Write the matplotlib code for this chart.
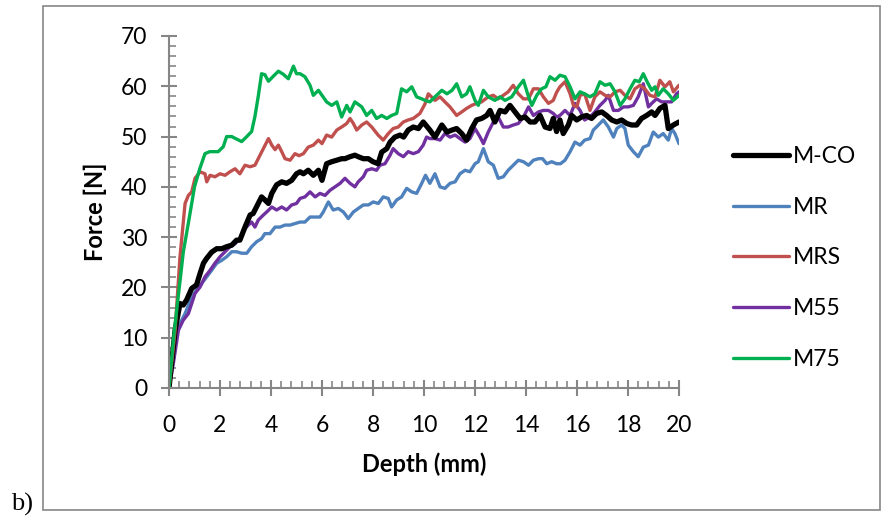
import matplotlib
matplotlib.use("Agg")
import matplotlib.pyplot as plt
from matplotlib.patches import Rectangle
from matplotlib.ticker import MultipleLocator

series_names = ["M-CO", "MR", "MRS", "M55", "M75"]
series_colors = ["#000000", "#4F81BD", "#C0504D", "#7030A0", "#00B050"]

mco_x = [0, 0.24, 0.43, 0.56, 0.69, 0.89, 1.08, 1.22, 1.35, 1.48, 1.67, 1.87, 2.07, 2.26, 2.46, 2.65, 2.78, 2.98, 3.18, 3.3, 3.5, 3.63, 3.76, 3.9, 4.03, 4.22, 4.42, 4.61, 4.81, 5.0,
         5.14, 5.27, 5.46, 5.66, 5.86, 6.0, 6.18, 6.38, 6.58, 6.77, 6.9, 7.1, 7.29, 7.42, 7.62, 7.82, 8.0, 8.2, 8.34, 8.54, 8.67, 8.86, 9.06, 9.2, 9.38, 9.58, 9.78, 9.97,
         10.23, 10.43, 10.7, 10.9, 11.1, 11.28, 11.48, 11.67, 11.87, 12.06, 12.26, 12.46, 12.59, 12.78, 12.98, 13.18, 13.37, 13.57, 13.77, 13.96, 14.16, 14.35, 14.55, 14.75, 14.94, 15.07, 15.2,
         15.33, 15.46, 15.66, 15.79, 15.99, 16.18, 16.38, 16.57, 16.77, 16.97, 17.16, 17.36, 17.56, 17.75, 17.95, 18.14, 18.34, 18.53, 18.73, 18.93, 19.06, 19.25, 19.45, 19.58, 19.78, 20.0]
mco_y = [0, 11.5, 16.8, 16.5, 17.5, 19.8, 20.5, 22.8, 24.8, 25.8, 27.0, 27.7, 27.7, 28.1, 28.4, 29.4, 29.4, 32.0, 34.4, 34.7, 36.7, 38.0, 37.4, 36.7, 38.7, 40.4, 41.0, 40.7, 41.3, 42.6,
         43.0, 42.6, 43.3, 42.3, 43.3, 41.3, 44.6, 45.0, 45.3, 45.6, 45.6, 46.0, 46.3, 46.0, 45.6, 45.6, 45.0, 44.6, 46.9, 47.6, 48.9, 49.9, 50.3, 49.9, 51.3, 51.9, 51.6, 52.9,
         51.3, 49.9, 52.3, 50.9, 51.3, 51.6, 50.6, 49.3, 51.6, 53.3, 53.6, 54.2, 55.2, 52.9, 55.2, 54.9, 56.2, 54.9, 53.6, 53.9, 52.9, 52.9, 54.2, 51.9, 51.6, 53.6, 51.0,
         53.3, 50.6, 52.3, 54.2, 53.3, 53.9, 54.2, 53.6, 54.6, 54.9, 54.2, 53.3, 52.9, 53.3, 52.6, 52.3, 52.3, 53.6, 54.2, 54.9, 54.2, 55.6, 56.2, 51.6, 52.3, 52.9]

mr_x = [0, 0.24, 0.43, 0.63, 0.89, 1.08, 1.28, 1.48, 1.67, 1.87, 2.07, 2.26, 2.46, 2.65, 2.85, 3.05, 3.24, 3.44, 3.63, 3.76, 3.96, 4.16, 4.35, 4.55, 4.75, 4.94,
        5.14, 5.33, 5.53, 5.73, 5.92, 6.05, 6.25, 6.44, 6.64, 6.84, 7.03, 7.23, 7.42, 7.62, 7.82, 8.01, 8.21, 8.4, 8.6, 8.73, 8.93, 9.12, 9.32, 9.52, 9.71, 9.91, 10.06,
        10.23, 10.43, 10.63, 10.82, 11.02, 11.22, 11.41, 11.61, 11.8, 12.0, 12.13, 12.33, 12.52, 12.72, 12.91, 13.11, 13.3, 13.5, 13.7, 13.9, 14.1, 14.29, 14.49, 14.65, 14.81, 15.01, 15.2,
        15.35, 15.53, 15.73, 15.92, 16.12, 16.3, 16.51, 16.64, 16.84, 17.03, 17.23, 17.43, 17.56, 17.75, 17.88, 18.01, 18.21, 18.4, 18.6, 18.8, 18.99, 19.19, 19.38, 19.58, 19.71, 19.84, 20.0]
mr_y = [0, 10.2, 12.8, 14.8, 18.1, 19.5, 20.8, 22.1, 23.4, 24.8, 25.4, 26.1, 27.1, 27.1, 26.8, 26.8, 28.1, 29.1, 29.7, 30.7, 30.7, 32.0, 32.0, 32.4, 32.4, 32.7,
        33.0, 33.0, 34.0, 34.0, 34.0, 35.0, 37.0, 35.4, 35.7, 35.0, 33.7, 35.0, 35.7, 36.4, 36.4, 37.0, 36.7, 38.0, 37.7, 36.0, 37.4, 38.0, 39.7, 39.0, 38.7, 40.7, 42.3,
        40.7, 42.6, 40.0, 39.7, 40.7, 41.0, 42.6, 43.3, 43.0, 44.6, 45.0, 47.6, 45.0, 44.3, 41.7, 42.0, 43.3, 44.3, 45.3, 45.0, 44.3, 45.3, 45.6, 45.6, 44.6, 45.0, 44.6,
        44.6, 45.3, 47.0, 48.9, 48.3, 49.3, 49.6, 51.3, 52.3, 53.3, 51.9, 49.9, 51.6, 52.3, 51.6, 48.3, 47.0, 46.0, 47.9, 48.3, 50.9, 49.9, 50.6, 49.3, 51.6, 50.6, 48.6]

mrs_x = [0, 0.24, 0.43, 0.63, 0.76, 0.89, 1.02, 1.22, 1.41, 1.48, 1.61, 1.8, 2.0, 2.2, 2.39, 2.59, 2.78, 2.98, 3.18, 3.37, 3.57, 3.7, 3.9, 4.03, 4.16, 4.29, 4.42, 4.55, 4.75, 4.94,
         5.1, 5.27, 5.46, 5.66, 5.86, 6.0, 6.18, 6.38, 6.58, 6.77, 6.97, 7.1, 7.23, 7.36, 7.56, 7.75, 7.95, 8.2, 8.4, 8.6, 8.79, 8.99, 9.19, 9.38, 9.58, 9.84, 10.04,
         10.17, 10.43, 10.63, 10.82, 11.02, 11.28, 11.48, 11.67, 11.87, 12.06, 12.26, 12.52, 12.72, 12.91, 13.11, 13.3, 13.5, 13.7, 13.9, 14.1, 14.29, 14.49, 14.68, 14.88, 15.07,
         15.2, 15.33, 15.53, 15.73, 15.86, 15.99, 16.12, 16.3, 16.51, 16.7, 16.9, 17.1, 17.3, 17.49, 17.69, 17.88, 18.08, 18.27, 18.47, 18.66, 18.86, 19.06, 19.25, 19.45, 19.64, 19.78, 20.0]
mrs_y = [0, 11.5, 26.0, 36.7, 38.3, 39.0, 41.7, 43.0, 42.6, 41.0, 42.3, 42.0, 42.6, 42.3, 43.0, 43.6, 42.6, 44.3, 44.0, 44.3, 46.3, 47.6, 49.6, 48.3, 47.4, 48.3, 47.0, 45.6, 45.3, 46.6,
         46.2, 46.6, 47.9, 48.3, 49.3, 48.6, 50.3, 49.9, 51.3, 51.9, 52.6, 53.6, 52.6, 51.3, 52.3, 52.9, 51.9, 50.3, 49.3, 50.6, 51.6, 51.9, 52.9, 53.3, 53.6, 54.6, 56.5,
         58.5, 57.2, 57.9, 56.9, 55.9, 54.2, 54.9, 55.6, 56.2, 56.6, 56.9, 57.9, 58.2, 57.5, 58.2, 58.9, 60.2, 58.5, 57.5, 57.5, 59.5, 59.5, 57.9, 56.6, 57.2,
         58.8, 59.9, 60.9, 58.5, 56.2, 55.9, 58.2, 58.5, 55.2, 57.9, 58.9, 58.2, 57.9, 58.9, 59.2, 58.2, 57.5, 59.5, 60.2, 59.5, 58.2, 57.9, 61.2, 59.9, 60.9, 58.9, 60.2]

m55_x = [0, 0.17, 0.37, 0.56, 0.76, 0.89, 1.02, 1.22, 1.41, 1.61, 1.8, 2.0, 2.2, 2.39, 2.59, 2.78, 2.92, 3.11, 3.24, 3.37, 3.5, 3.7, 3.83, 4.03, 4.22, 4.42, 4.61, 4.81, 5.0,
         5.14, 5.33, 5.53, 5.73, 5.92, 6.12, 6.31, 6.51, 6.71, 6.9, 7.1, 7.29, 7.42, 7.62, 7.75, 7.95, 8.14, 8.27, 8.47, 8.67, 8.79, 8.99, 9.19, 9.38, 9.58, 9.78, 9.97,
         10.1, 10.23, 10.43, 10.63, 10.82, 11.02, 11.22, 11.41, 11.61, 11.8, 12.0, 12.2, 12.33, 12.52, 12.72, 12.91, 13.11, 13.3, 13.5, 13.7, 13.9, 14.1, 14.29, 14.49, 14.68, 14.88, 15.07,
         15.2, 15.33, 15.53, 15.73, 15.92, 16.12, 16.3, 16.51, 16.7, 16.9, 17.1, 17.23, 17.43, 17.62, 17.82, 18.01, 18.21, 18.4, 18.6, 18.8, 18.93, 19.12, 19.32, 19.51, 19.71, 19.9, 20.0]
m55_y = [0, 4.9, 11.5, 13.5, 14.8, 16.8, 18.8, 20.1, 22.1, 23.4, 24.8, 26.1, 27.1, 28.1, 28.7, 29.7, 31.4, 32.4, 33.0, 32.0, 33.4, 34.4, 35.0, 36.0, 35.4, 36.0, 35.4, 36.4, 36.7,
         37.7, 38.0, 39.0, 38.0, 38.7, 38.3, 39.3, 40.0, 40.7, 41.7, 40.7, 40.0, 41.0, 42.0, 43.3, 43.6, 43.3, 44.3, 44.6, 46.3, 47.6, 46.6, 46.0, 47.0, 46.6, 47.0, 48.3,
         49.9, 49.6, 49.6, 49.3, 50.6, 49.9, 50.3, 49.6, 48.9, 49.6, 51.6, 49.9, 48.6, 50.9, 52.9, 53.9, 51.9, 51.9, 52.3, 52.6, 53.9, 55.9, 54.2, 54.9, 55.2, 55.2, 54.6,
         53.9, 54.2, 55.2, 54.2, 56.6, 55.2, 53.3, 53.9, 54.9, 56.2, 57.2, 58.2, 55.2, 55.2, 55.9, 55.9, 56.2, 57.9, 60.5, 55.9, 56.6, 57.5, 56.9, 56.9, 56.9, 58.5, 58.9]

m75_x = [0, 0.2, 0.37, 0.56, 0.8, 1.0, 1.2, 1.41, 1.6, 1.93, 2.13, 2.26, 2.46, 2.65, 2.85, 3.05, 3.24, 3.37, 3.5, 3.63, 3.76, 3.9, 4.09, 4.29, 4.48, 4.68, 4.88, 5.0,
         5.14, 5.33, 5.53, 5.66, 5.86, 6.0, 6.18, 6.38, 6.58, 6.77, 6.97, 7.1, 7.29, 7.56, 7.75, 7.95, 8.14, 8.34, 8.54, 8.73, 8.93, 9.12, 9.32, 9.52, 9.71, 9.91, 10.04,
         10.23, 10.43, 10.7, 10.9, 11.1, 11.28, 11.48, 11.67, 11.8, 12.0, 12.13, 12.33, 12.52, 12.78, 12.98, 13.18, 13.44, 13.7, 13.9, 14.1, 14.23, 14.42, 14.61, 14.78, 14.94,
         15.14, 15.33, 15.53, 15.73, 15.92, 16.12, 16.3, 16.51, 16.7, 16.9, 17.1, 17.3, 17.49, 17.69, 17.88, 18.08, 18.27, 18.44, 18.6, 18.75, 18.93, 19.06, 19.19, 19.38, 19.58, 19.78, 20.0]
m75_y = [0, 11.0, 18.5, 27.0, 34.0, 40.0, 43.5, 46.6, 47.0, 47.0, 48.0, 50.0, 50.0, 49.5, 49.0, 50.0, 51.0, 54.0, 58.0, 62.5, 62.3, 61.0, 62.0, 63.0, 62.4, 61.5, 64.0, 62.5,
         62.5, 61.9, 60.2, 58.2, 59.2, 58.2, 56.9, 56.2, 56.9, 53.9, 56.2, 54.9, 56.9, 55.9, 54.2, 55.2, 53.6, 54.2, 53.6, 54.2, 54.6, 59.5, 58.9, 59.9, 57.9, 57.5, 57.2,
         56.9, 57.9, 59.2, 58.5, 59.2, 60.5, 57.9, 58.5, 59.9, 57.2, 56.2, 59.2, 57.9, 57.2, 57.9, 57.2, 57.9, 59.9, 61.2, 57.9, 56.2, 58.2, 59.5, 59.9, 61.9,
         61.2, 62.2, 61.9, 59.9, 57.5, 58.9, 58.5, 57.9, 58.5, 60.9, 60.2, 60.5, 58.9, 56.2, 57.5, 59.5, 61.2, 60.9, 62.5, 60.9, 59.2, 59.9, 58.2, 59.5, 58.5, 57.2, 58.2]

x_ticks = [0, 2, 4, 6, 8, 10, 12, 14, 16, 18, 20]
y_ticks = [0, 10, 20, 30, 40, 50, 60, 70]

plt.rcParams['font.family'] = ['Lato', 'DejaVu Sans']

W, H = 890, 518
fig = plt.figure(figsize=(W / 100, H / 100), dpi=100)
ax = fig.add_axes([169 / W, 1 - 388 / H, (679 - 169) / W, (388 - 36) / H])

xs = [mco_x, mr_x, mrs_x, m55_x, m75_x]
ys = [mco_y, mr_y, mrs_y, m55_y, m75_y]
widths = [3.8, 2.4, 2.4, 2.4, 2.4]
order = [1, 3, 0, 2, 4]
lines = {}
for i in order:
    ln, = ax.plot(xs[i], ys[i], color=series_colors[i], lw=widths[i],
                  solid_joinstyle='round', solid_capstyle='round', label=series_names[i])
    lines[i] = ln

ax.set_xlim(0, 20)
ax.set_ylim(0, 70)
ax.set_xticks(x_ticks)
ax.set_yticks(y_ticks)
ax.xaxis.set_minor_locator(MultipleLocator(0.4))
ax.yaxis.set_minor_locator(MultipleLocator(2))

gray = '#868686'
for s in ['top', 'right']:
    ax.spines[s].set_visible(False)
for s in ['left', 'bottom']:
    ax.spines[s].set_color(gray)
    ax.spines[s].set_linewidth(1.5)
ax.tick_params(which='major', direction='inout', length=11, width=1.5, color=gray,
               labelsize=16.5, labelcolor='black')
ax.tick_params(which='minor', direction='in', length=5, width=1.2, color=gray)
ax.tick_params(axis='y', which='major', pad=10)
ax.tick_params(axis='x', which='major', pad=14)

ax.set_xlabel('Depth (mm)', fontsize=17, fontweight='bold', labelpad=12)
ax.set_ylabel('Force [N]', fontsize=17, fontweight='bold', labelpad=10)

handles = [lines[i] for i in range(5)]
fig.legend(handles, series_names, loc='center left',
           bbox_to_anchor=(712 / W, 1 - 258 / H), frameon=False, fontsize=16.5,
           handlelength=2.45, handletextpad=0.2, labelspacing=1.3)

fig.patches.append(Rectangle((43 / W, 1 - 510 / H), (880 - 43) / W, (510 - 6) / H,
                             transform=fig.transFigure, fill=False,
                             edgecolor=gray, lw=1.2))
fig.text(11 / W, 1 - 511 / H, 'b)', family='Liberation Serif', fontsize=19,
         ha='left', va='baseline')

fig.savefig('out.png', dpi=100)
